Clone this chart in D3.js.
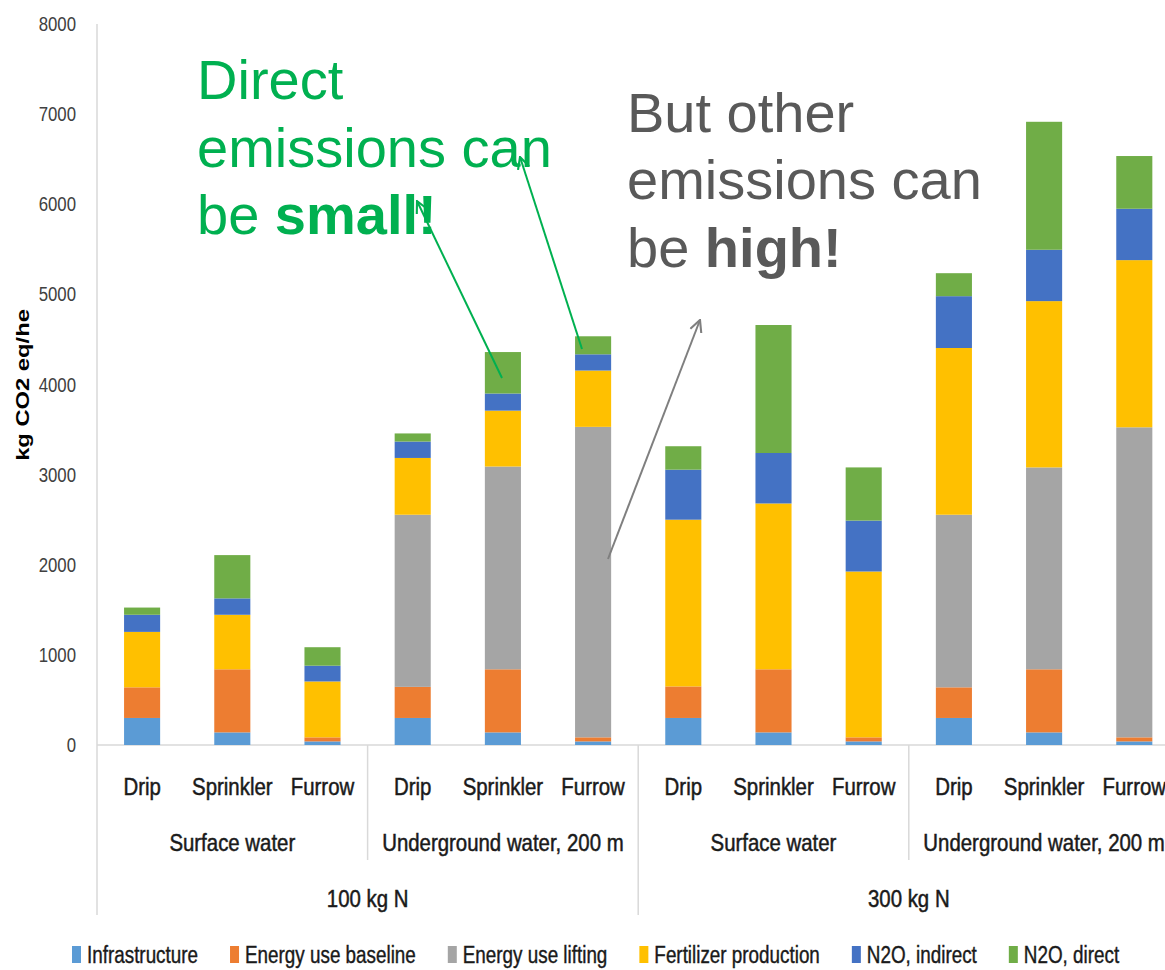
<!DOCTYPE html>
<html>
<head>
<meta charset="utf-8">
<script src="https://cdn.jsdelivr.net/npm/d3@7"></script>
<style>
  body { margin: 0; background: #fff; }
  svg { display: block; }
  .lbl { font-family: "Liberation Sans", Arial, sans-serif; }
</style>
</head>
<body>
<svg id="chart" width="1165" height="970"></svg>
<script>
const methods = ["Drip", "Sprinkler", "Furrow"];
const waterSources = ["Surface water", "Underground water, 200 m"];
const nitrogenLevels = ["100 kg N", "300 kg N"];
const yTicks = [0, 1000, 2000, 3000, 4000, 5000, 6000, 7000, 8000];

const seriesNames = ["Infrastructure", "Energy use baseline", "Energy use lifting",
  "Fertilizer production", "N2O, indirect", "N2O, direct"];
const seriesColors = ["#5B9BD5", "#ED7D31", "#A5A5A5", "#FFC000", "#4472C4", "#70AD47"];

// one value per bar, 12 bars: 100 kg N (surface, underground), 300 kg N (surface, underground)
const infrastructure = [300, 140, 40, 300, 140, 40, 300, 140, 40, 300, 140, 40];
const energyBaseline = [340, 700, 45, 345, 700, 45, 350, 700, 45, 340, 700, 45];
const energyLifting = [0, 0, 0, 1910, 2250, 3445, 0, 0, 0, 1915, 2240, 3440];
const fertilizer = [615, 605, 620, 630, 620, 625, 1850, 1840, 1840, 1850, 1845, 1855];
const n2oIndirect = [190, 182, 175, 182, 190, 180, 555, 560, 565, 575, 570, 570];
const n2oDirect = [80, 480, 205, 90, 460, 200, 260, 1420, 590, 255, 1420, 585];

const seriesValues = [infrastructure, energyBaseline, energyLifting, fertilizer, n2oIndirect, n2oDirect];

const svg = d3.select("svg#chart");
const left = 97, zeroY = 745, topY = 24;
const step = 90.2;
const narrow = 0.85; // the source picture has tall, narrow label text

// build rows for the stack
const rows = [];
nitrogenLevels.forEach((n, ni) => {
  waterSources.forEach((w, wi) => {
    methods.forEach((m, mi) => {
      const i = ni * 6 + wi * 3 + mi;
      const row = { id: i, method: m, water: w, nitrogen: n };
      seriesNames.forEach((s, si) => { row[s] = seriesValues[si][i]; });
      rows.push(row);
    });
  });
});

const x = d3.scaleBand()
  .domain(rows.map(d => d.id))
  .range([left, left + step * rows.length])
  .paddingInner(0.6)
  .paddingOuter(0.3);
const y = d3.scaleLinear().domain([0, 8000]).range([zeroY, topY]);
const color = d3.scaleOrdinal().domain(seriesNames).range(seriesColors);

const stacked = d3.stack().keys(seriesNames)(rows);

// axis lines and category separators
const lineColor = "#d9d9d9";
svg.append("line").attr("x1", left).attr("x2", 1165).attr("y1", zeroY).attr("y2", zeroY)
  .attr("stroke", lineColor).attr("stroke-width", 1.5);
svg.append("line").attr("x1", left).attr("x2", left).attr("y1", topY).attr("y2", 915)
  .attr("stroke", lineColor).attr("stroke-width", 1.5);
[1, 2, 3].forEach(k => {
  const xs = left + step * 3 * k;
  svg.append("line").attr("x1", xs).attr("x2", xs).attr("y1", zeroY)
    .attr("y2", k === 2 ? 915 : 860)
    .attr("stroke", lineColor).attr("stroke-width", 1.5);
});

// y axis labels
const yg = svg.append("g").attr("class", "lbl");
yg.selectAll("text")
  .data(yTicks)
  .join("text")
  .attr("transform", d => `translate(76,${y(d) + 7}) scale(0.8,1)`)
  .attr("text-anchor", "end")
  .style("font-size", "21px")
  .attr("fill", "#404040")
  .text(d3.format("d"));

svg.append("text")
  .attr("transform", "translate(29,385) rotate(-90) scale(1.25,1)")
  .attr("text-anchor", "middle")
  .style("font-family", "Liberation Sans, Arial, sans-serif")
  .style("font-weight", "bold")
  .style("font-size", "19px")
  .attr("fill", "#000")
  .text("kg CO2 eq/he");

// stacked bars
svg.append("g")
  .selectAll("g")
  .data(stacked)
  .join("g")
  .attr("fill", d => color(d.key))
  .selectAll("rect")
  .data(d => d)
  .join("rect")
  .attr("x", d => x(d.data.id))
  .attr("width", x.bandwidth())
  .attr("y", d => y(d[1]))
  .attr("height", d => y(d[0]) - y(d[1]));

// category labels
const labelG = svg.append("g").attr("class", "lbl").attr("fill", "#1a1a1a")
  .attr("stroke", "#1a1a1a").attr("stroke-width", 0.5)
  .style("font-size", "24px").attr("text-anchor", "middle");
labelG.selectAll("text.method")
  .data(rows)
  .join("text")
  .attr("class", "method")
  .attr("transform", d => `translate(${x(d.id) + x.bandwidth() / 2},795) scale(${narrow},1)`)
  .text(d => d.method);

const groups = [];
nitrogenLevels.forEach((n, ni) => waterSources.forEach((w, wi) => groups.push({ w, first: ni * 6 + wi * 3 })));
labelG.selectAll("text.water")
  .data(groups)
  .join("text")
  .attr("class", "water")
  .attr("transform", d => `translate(${x(d.first + 1) + x.bandwidth() / 2},851) scale(${narrow},1)`)
  .text(d => d.w);

labelG.selectAll("text.nitro")
  .data(nitrogenLevels)
  .join("text")
  .attr("class", "nitro")
  .attr("transform", (d, i) => `translate(${x(i * 6) - step * 0.3 + step * 3},907) scale(${narrow},1)`)
  .text(d => d);

// legend
const legendScale = 0.82;
const legend = svg.append("g").attr("class", "lbl").style("font-size", "23px")
  .attr("fill", "#1a1a1a").attr("stroke", "#1a1a1a").attr("stroke-width", 0.4);
let lx = 87;
seriesNames.forEach((s, i) => {
  legend.append("rect").attr("x", lx - 15).attr("y", 946).attr("width", 9).attr("height", 17)
    .attr("fill", seriesColors[i]).attr("stroke", "none");
  const t = legend.append("text")
    .attr("transform", `translate(${lx},963) scale(${legendScale},1)`)
    .text(s);
  lx += t.node().getComputedTextLength() * legendScale + 47;
});

// annotations
const green = "#00B050", grey = "#595959";
const defs = svg.append("defs");
function arrowHead(id, c) {
  defs.append("marker")
    .attr("id", id)
    .attr("viewBox", "0 0 12 12")
    .attr("refX", 11).attr("refY", 6)
    .attr("markerWidth", 14).attr("markerHeight", 14)
    .attr("markerUnits", "userSpaceOnUse")
    .attr("orient", "auto")
    .append("path")
    .attr("d", "M1,1 L11,6 L1,11")
    .attr("fill", "none")
    .attr("stroke", c)
    .attr("stroke-width", 1.8);
}
arrowHead("headGreen", green);
arrowHead("headGrey", "#7f7f7f");

function note(x0, lines, c) {
  const t = svg.append("text")
    .style("font-family", "Liberation Sans, Arial, sans-serif")
    .style("font-size", "56px")
    .attr("fill", c);
  lines.forEach((ln, i) => {
    const ts = t.append("tspan").attr("x", x0).attr("y", ln.y);
    ts.append("tspan").text(ln.text);
    if (ln.bold) ts.append("tspan").style("font-weight", "bold").text(ln.bold);
  });
}
note(197, [
  { y: 99, text: "Direct" },
  { y: 167, text: "emissions can" },
  { y: 234, text: "be ", bold: "small!" }
], green);
note(627, [
  { y: 132, text: "But other" },
  { y: 199, text: "emissions can" },
  { y: 267, text: "be ", bold: "high!" }
], grey);

const arrows = [
  { x1: 502, y1: 378, x2: 417, y2: 201, c: green, m: "headGreen" },
  { x1: 582, y1: 349, x2: 520, y2: 157, c: green, m: "headGreen" },
  { x1: 608, y1: 559, x2: 700, y2: 320, c: "#7f7f7f", m: "headGrey" }
];
svg.selectAll("line.arrow")
  .data(arrows)
  .join("line")
  .attr("class", "arrow")
  .attr("x1", d => d.x1).attr("y1", d => d.y1)
  .attr("x2", d => d.x2).attr("y2", d => d.y2)
  .attr("stroke", d => d.c)
  .attr("stroke-width", 2)
  .attr("marker-end", d => `url(#${d.m})`);
</script>
</body>
</html>
